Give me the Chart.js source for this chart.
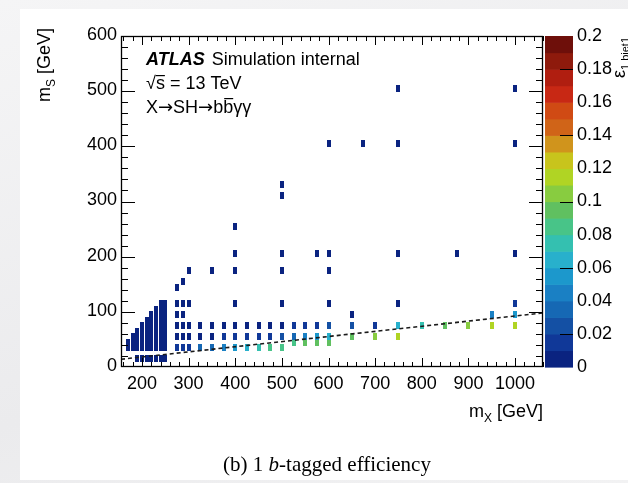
<!DOCTYPE html>
<html lang="en">
<head>
<meta charset="UTF-8" />
<title>1 b-tagged efficiency</title>
<script src="https://cdn.jsdelivr.net/npm/chart.js@4.4.0/dist/chart.umd.min.js"></script>
<style>
  html, body { margin: 0; padding: 0; width: 628px; height: 483px; overflow: hidden;
    background: linear-gradient(160deg, #f5f5f6 0%, #ebebed 60%, #f2f2f3 100%); }
  #panel { position: absolute; left: 20px; top: 9px; width: 608px; height: 471px; background: #fff; }
  #c { position: absolute; left: 0; top: 0; }
</style>
</head>
<body>
<div id="panel"></div>
<canvas id="c" width="628" height="483"></canvas>
<script>
// signal grid: one entry per m_X column, with the m_S points and the efficiency of each
const colX = [170, 180, 190, 200, 210, 220, 230, 240, 250, 276, 287, 300,
  325, 350, 375, 400, 425, 450, 475, 500, 525, 550, 575, 600,
  650, 675, 700, 750, 800, 850, 875, 900, 950, 1000];
const colS = [
  [35, 45],
  [35, 45, 55],
  [15, 35, 45, 55, 65],
  [15, 35, 45, 55, 65, 75],
  [15, 35, 45, 55, 65, 75, 85],
  [15, 35, 45, 55, 65, 75, 85, 95],
  [15, 35, 45, 55, 65, 75, 85, 95, 105],
  [15, 35, 45, 55, 65, 75, 85, 95, 105, 115],
  [15, 35, 45, 55, 65, 75, 85, 95, 105, 115],
  [35, 55, 75, 95, 115, 145],
  [35, 55, 75, 95, 115, 155],
  [35, 55, 75, 115, 175],
  [35, 55, 75],
  [35, 55, 75, 175],
  [35, 55, 75],
  [35, 55, 75, 115, 175, 205, 255],
  [35, 55, 75],
  [35, 55, 75],
  [35, 55, 75],
  [35, 55, 75, 115, 175, 205, 310, 330],
  [45, 55, 75],
  [45, 55, 75],
  [45, 55, 75, 205],
  [45, 55, 75, 115, 175, 205, 405],
  [55, 75, 95],
  [405],
  [55, 75],
  [55, 75, 115, 205, 405, 505],
  [75],
  [75],
  [205],
  [75],
  [75, 95],
  [75, 95, 115, 205, 405, 505]
];
const colEff = [
  [0.004, 0.004],
  [0.004, 0.004, 0.004],
  [0.006, 0.004, 0.004, 0.004, 0.004],
  [0.006, 0.004, 0.004, 0.004, 0.004, 0.004],
  [0.006, 0.004, 0.004, 0.004, 0.004, 0.004, 0.004],
  [0.006, 0.004, 0.004, 0.004, 0.004, 0.004, 0.004, 0.004],
  [0.006, 0.004, 0.004, 0.004, 0.004, 0.004, 0.004, 0.004, 0.004],
  [0.006, 0.004, 0.004, 0.004, 0.004, 0.004, 0.004, 0.004, 0.004, 0.004],
  [0.006, 0.004, 0.004, 0.004, 0.004, 0.004, 0.004, 0.004, 0.004, 0.004],
  [0.012, 0.005, 0.005, 0.005, 0.005, 0.004],
  [0.014, 0.006, 0.005, 0.005, 0.005, 0.004],
  [0.016, 0.007, 0.005, 0.004, 0.004],
  [0.030, 0.008, 0.006],
  [0.038, 0.009, 0.006, 0.004],
  [0.048, 0.010, 0.006],
  [0.055, 0.012, 0.007, 0.005, 0.004, 0.004, 0.004],
  [0.062, 0.013, 0.007],
  [0.072, 0.015, 0.008],
  [0.082, 0.017, 0.008],
  [0.088, 0.020, 0.009, 0.005, 0.004, 0.004, 0.004, 0.004],
  [0.085, 0.030, 0.010],
  [0.090, 0.045, 0.011],
  [0.092, 0.052, 0.012, 0.004],
  [0.095, 0.060, 0.020, 0.005, 0.004, 0.004, 0.004],
  [0.095, 0.025, 0.008],
  [0.004],
  [0.100, 0.015],
  [0.110, 0.065, 0.005, 0.004, 0.004, 0.004],
  [0.075],
  [0.095],
  [0.004],
  [0.105],
  [0.112, 0.045],
  [0.115, 0.052, 0.010, 0.004, 0.004, 0.004]
];
// dashed cut line, m_S vs m_X
const cutX = [155, 1060];
const cutS = [14, 98];

const xLabels = [200, 300, 400, 500, 600, 700, 800, 900, 1000];
const yLabels = [0, 100, 200, 300, 400, 500, 600];
const zLabels = [0, 0.02, 0.04, 0.06, 0.08, 0.1, 0.12, 0.14, 0.16, 0.18, 0.2];

// 20 bands of 0.01 each
const palette = ['#0a2380', '#103898', '#1450a4', '#1668b4', '#1a80c4', '#1c98cc', '#28b0cc', '#34c0b0',
  '#48c488', '#60c060', '#88cc40', '#b0d424', '#c8c41c', '#d0941c', '#d06418', '#d04a14',
  '#c82814', '#b01e10', '#8e1a0c', '#6e0f0a'];

const FONT = '"Liberation Sans", Arial, Helvetica, sans-serif';

function colorFor(v) {
  return palette[Math.min(palette.length - 1, Math.floor(v / 0.01))];
}

const markers = {};
function marker(color) {
  if (!markers[color]) {
    const c = document.createElement('canvas');
    c.width = 4;
    c.height = 7;
    const g = c.getContext('2d');
    g.fillStyle = color;
    g.fillRect(0, 0, 4, 7);
    markers[color] = c;
  }
  return markers[color];
}

const points = [];
colX.forEach((x, i) => {
  colS[i].forEach((s, j) => points.push({ x: x, y: s, v: colEff[i][j] }));
});

// draws text made of runs (normal / sub / overline), returns end x
function runs(ctx, parts, x, y, measureOnly) {
  parts.forEach((p) => {
    ctx.font = p.f;
    const w = ctx.measureText(p.t).width;
    if (!measureOnly) {
      ctx.fillText(p.t, x, y + (p.dy || 0));
      if (p.bar) {
        ctx.fillRect(x + p.bar[0], y + p.bar[1], w - p.bar[0], 1.2);
      }
    }
    x += w;
  });
  return x;
}

const rootStyle = {
  id: 'rootStyle',
  afterDraw(chart) {
    const { ctx, chartArea: a, scales } = chart;
    const xs = scales.x, ys = scales.y, zs = scales.z;
    ctx.save();

    // colour bar
    const zl = a.right + 2, zw = 28;
    palette.forEach((col, i) => {
      const y0 = zs.getPixelForValue(i * 0.01);
      const y1 = zs.getPixelForValue((i + 1) * 0.01);
      ctx.fillStyle = col;
      ctx.fillRect(zl, y1, zw, y0 - y1 + 0.6);
    });
    ctx.strokeStyle = '#000';
    ctx.lineWidth = 1;
    ctx.beginPath();
    [0.02, 0.06, 0.1, 0.14, 0.18].forEach((v) => {
      const py = Math.round(zs.getPixelForValue(v)) + 0.5;
      ctx.moveTo(zl + zw, py);
      ctx.lineTo(zl + zw - 13, py);
    });
    ctx.stroke();

    // frame and ticks
    ctx.beginPath();
    for (let v = 160; v <= 1060; v += 20) {
      const px = Math.round(xs.getPixelForValue(v)) + 0.5;
      const len = v % 100 === 0 ? 9 : 5;
      ctx.moveTo(px, a.bottom);
      ctx.lineTo(px, a.bottom - len);
      ctx.moveTo(px, a.top);
      ctx.lineTo(px, a.top + len);
    }
    for (let v = 20; v < 600; v += 20) {
      const py = Math.round(ys.getPixelForValue(v)) + 0.5;
      const len = v % 100 === 0 ? 14 : 7;
      ctx.moveTo(a.left, py);
      ctx.lineTo(a.left + len, py);
      ctx.moveTo(a.right, py);
      ctx.lineTo(a.right - len, py);
    }
    ctx.stroke();
    ctx.lineWidth = 1.3;
    ctx.strokeRect(a.left + 0.5, a.top + 0.5, a.right - a.left - 1, a.bottom - a.top - 1);

    // tick labels
    ctx.fillStyle = '#000';
    ctx.font = '18px ' + FONT;
    ctx.textAlign = 'center';
    ctx.textBaseline = 'alphabetic';
    xLabels.forEach((v) => ctx.fillText(String(v), xs.getPixelForValue(v), a.bottom + 22));
    ctx.textAlign = 'right';
    ctx.textBaseline = 'middle';
    yLabels.forEach((v) => ctx.fillText(String(v), a.left - 4, ys.getPixelForValue(v) - 1));
    ctx.textAlign = 'left';
    zLabels.forEach((v) => ctx.fillText(String(v), zl + zw + 4, zs.getPixelForValue(v)));

    // axis titles
    ctx.textBaseline = 'alphabetic';
    const big = '18px ' + FONT, small = '12px ' + FONT;
    const arrow = '18px "DejaVu Sans", sans-serif';
    const titleX = [{ t: 'm', f: big }, { t: 'X', f: small, dy: 5 }, { t: ' [GeV]', f: big }];
    const wX = runs(ctx, titleX, 0, 0, true);
    runs(ctx, titleX, a.right - wX, 417);

    const titleY = [{ t: 'm', f: big }, { t: 'S', f: small, dy: 5 }, { t: ' [GeV]', f: big }];
    const wY = runs(ctx, titleY, 0, 0, true);
    ctx.save();
    ctx.translate(50, 28);
    ctx.rotate(-Math.PI / 2);
    runs(ctx, titleY, -wY, 0);
    ctx.restore();

    const titleZ = [{ t: 'ε', f: big }, { t: '1 bjet1', f: '11px ' + FONT, dy: 4 }];
    const wZ = runs(ctx, titleZ, 0, 0, true);
    ctx.save();
    ctx.translate(625, 37);
    ctx.rotate(-Math.PI / 2);
    runs(ctx, titleZ, -wZ, 0);
    ctx.restore();

    // ATLAS label
    const x = runs(ctx, [{ t: 'ATLAS', f: 'italic bold 18px ' + FONT }], a.left + 25, 65);
    runs(ctx, [{ t: ' Simulation internal', f: big }], x + 2, 65);
    runs(ctx, [{ t: '√', f: big }, { t: 's', f: big, bar: [0, -14] }, { t: ' = 13 TeV', f: big }], a.left + 25, 89);
    runs(ctx, [
      { t: 'X', f: big }, { t: '→', f: arrow }, { t: 'SH', f: big }, { t: '→', f: arrow },
      { t: 'b', f: big }, { t: 'b', f: big, bar: [1, -15] }, { t: 'γγ', f: big }
    ], a.left + 25, 113);

    // caption
    const serif = '"Liberation Serif", "Times New Roman", serif';
    const cap = [
      { t: '(b) 1 ', f: '21px ' + serif },
      { t: 'b', f: 'italic 21px ' + serif },
      { t: '-tagged efficiency', f: '21px ' + serif }
    ];
    const wc = runs(ctx, cap, 0, 0, true);
    runs(ctx, cap, 327 - wc / 2, 471);
    ctx.restore();
  }
};

new Chart(document.getElementById('c'), {
  type: 'scatter',
  data: {
    datasets: [
      {
        type: 'line',
        data: cutX.map((x, i) => ({ x: x, y: cutS[i] })),
        borderColor: '#1a1a1a',
        borderWidth: 1.6,
        borderDash: [4, 3],
        pointRadius: 0,
        order: 0
      },
      {
        data: points,
        pointStyle: (c) => (c.raw ? marker(colorFor(c.raw.v)) : 'rect'),
        pointRadius: 3,
        order: 1
      }
    ]
  },
  options: {
    responsive: false,
    animation: false,
    events: [],
    layout: { padding: { left: 121, right: 85, top: 36, bottom: 116 } },
    plugins: { legend: { display: false }, tooltip: { enabled: false } },
    scales: {
      x: { type: 'linear', min: 155, max: 1060, display: false },
      y: { type: 'linear', min: 0, max: 600, display: false },
      z: { type: 'linear', axis: 'y', position: 'right', min: 0, max: 0.2, display: false }
    }
  },
  plugins: [rootStyle]
});
</script>
</body>
</html>
